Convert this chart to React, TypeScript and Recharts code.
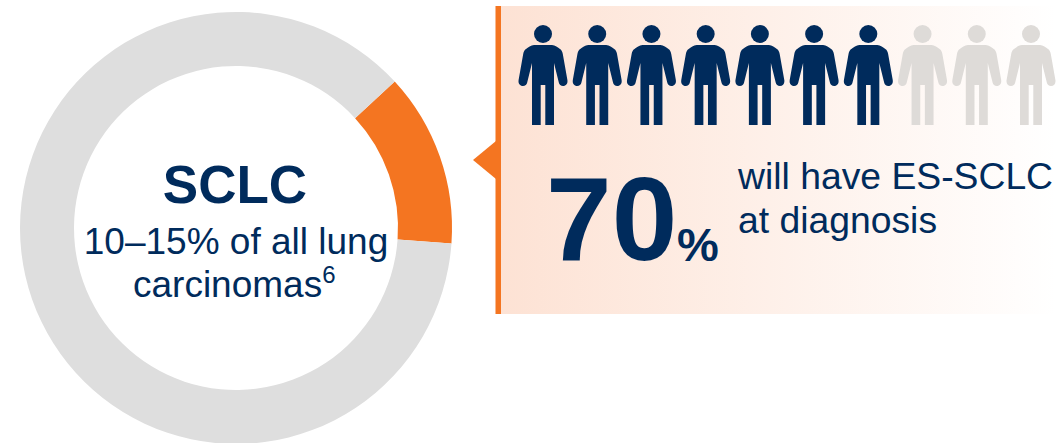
import { Cell, Pie, PieChart, Scatter, ScatterChart, XAxis, YAxis } from 'recharts';

// Share of all lung carcinomas that are SCLC, and the remainder
const shareNames = ['SCLC', 'Other lung carcinomas'];
const shareValues = [13, 87];
const shareColors = ['#F47521', '#DEDEDE'];

// One figure per 10% of patients; 1 = extensive stage at diagnosis
const personIndex = [1, 2, 3, 4, 5, 6, 7, 8, 9, 10];
const personExtensive = [1, 1, 1, 1, 1, 1, 1, 0, 0, 0];

const NAVY = '#002B5C';
const ORANGE = '#F47521';
const FONT = '"Liberation Sans", Arial, sans-serif';

const shareData = shareNames.map((name, i) => ({ name, value: shareValues[i] }));
const personData = personIndex.map((index, i) => ({ index, row: 0.5, extensive: personExtensive[i] }));

// Standing figure, origin at the figure's centre
const PERSON_BODY =
    'M-9 -30 C-12 -30 -15 -27.5 -17 -26 C-18.5 -25 -19.3 -23.5 -19.8 -21 L-24.4 5 ' +
    'C-25 8.5 -23 11 -20 11 C-17.8 11 -16.3 9.5 -15.8 7.5 L-11 -12 L-11 50 L-2.3 50 L-2.3 10 L2.3 10 L2.3 50 L11 50 L11 -12 ' +
    'L15.8 7.5 C16.3 9.5 17.8 11 20 11 C23 11 25 8.5 24.4 5 L19.8 -21 C19.3 -23.5 18.5 -25 17 -26 C15 -27.5 12 -30 9 -30 Z';

function PersonShape(props: any) {
    const { cx, cy, payload } = props;
    const fill = payload.extensive ? NAVY : '#DEDBD8';
    return (
        <g transform={`translate(${cx},${cy})`} fill={fill}>
            <circle cx={0} cy={-41} r={9} />
            <path d={PERSON_BODY} />
        </g>
    );
}

export default function App() {
    return (
        <div style={{ position: 'absolute', left: 0, top: 0, width: 1056, height: 443, overflow: 'hidden', background: '#fff', fontFamily: FONT }}>
            {/* Callout panel behind the pictogram */}
            <svg width={1056} height={443} style={{ position: 'absolute', left: 0, top: 0 }}>
                <defs>
                    <linearGradient id="panelFade" x1="0" y1="0" x2="1" y2="0">
                        <stop offset="0%" stopColor="#FDE2D4" />
                        <stop offset="100%" stopColor="#FFFFFF" />
                    </linearGradient>
                </defs>
                <rect x={500} y={6} width={556} height={308} fill="url(#panelFade)" />
                <rect x={495.5} y={6} width={5.5} height={308} fill={ORANGE} />
                <polygon points="496,141 473,160 496,179" fill={ORANGE} />
            </svg>

            <div style={{ position: 'absolute', left: 0, top: 0 }}>
                <PieChart width={1056} height={443} margin={{ top: 0, right: 0, bottom: 0, left: 0 }}>
                    <Pie
                        data={shareData}
                        dataKey="value"
                        nameKey="name"
                        cx={236}
                        cy={228}
                        innerRadius={162}
                        outerRadius={216}
                        startAngle={42.7}
                        endAngle={-317.3}
                        stroke="none"
                        isAnimationActive={false}
                    >
                        {shareData.map((entry, i) => (
                            <Cell key={entry.name} fill={shareColors[i]} />
                        ))}
                    </Pie>
                </PieChart>
            </div>

            <div style={{ position: 'absolute', left: 0, top: 0 }}>
                <ScatterChart width={1056} height={443} margin={{ top: 70, right: 25, bottom: 363, left: 543 }}>
                    <XAxis type="number" dataKey="index" domain={[1, 10]} hide />
                    <YAxis type="number" dataKey="row" domain={[0, 1]} hide />
                    <Scatter data={personData} shape={PersonShape} isAnimationActive={false} />
                </ScatterChart>
            </div>

            <svg width={1056} height={443} style={{ position: 'absolute', left: 0, top: 0 }} fontFamily={FONT} fill={NAVY}>
                <text x={235} y={203} fontSize={53} fontWeight={700} textAnchor="middle">SCLC</text>
                <text x={236} y={254} fontSize={37} textAnchor="middle">10–15% of all lung</text>
                <text x={133} y={297} fontSize={37}>
                    carcinomas<tspan fontSize={24} dy={-14}>6</tspan>
                </text>
                <text x={546} y={260} fontSize={118} fontWeight={700}>70</text>
                <text x={677} y={261} fontSize={47} fontWeight={700}>%</text>
                <text x={738} y={189} fontSize={37.3}>will have ES-SCLC</text>
                <text x={738} y={233} fontSize={37.3}>at diagnosis</text>
            </svg>
        </div>
    );
}
